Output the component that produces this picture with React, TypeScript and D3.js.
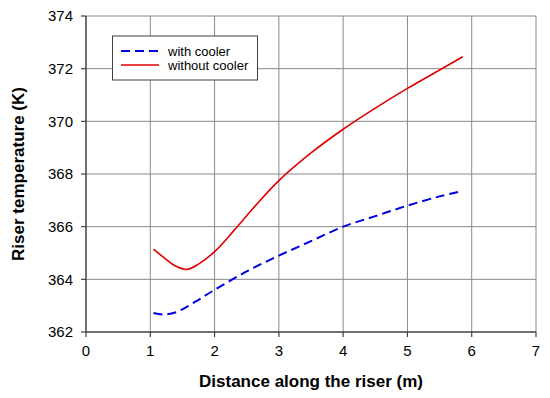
import React from "react";
import * as d3 from "d3";

const xTicks = [0, 1, 2, 3, 4, 5, 6, 7];
const yTicks = [362, 364, 366, 368, 370, 372, 374];

const withCoolerX = [1.05, 1.2, 1.4, 1.7, 2.0, 2.5, 3.0, 3.5, 4.0, 4.5, 5.0, 5.5, 5.81];
const withCoolerY = [362.72, 362.66, 362.75, 363.15, 363.6, 364.3, 364.9, 365.45, 366.0, 366.4, 366.8, 367.15, 367.33];

const withoutCoolerX = [1.05, 1.2, 1.4, 1.58, 1.75, 2.0, 2.3, 2.6, 3.0, 3.5, 4.0, 4.5, 5.0, 5.5, 5.86];
const withoutCoolerY = [365.15, 364.85, 364.5, 364.38, 364.58, 365.05, 365.85, 366.7, 367.75, 368.8, 369.7, 370.5, 371.25, 371.95, 372.45];

const W = 550;
const H = 398;
const left = 86, right = 536, top = 16, bottom = 332;
const font = "'Liberation Sans', Arial, sans-serif";

export default function App() {
  const x = d3.scaleLinear().domain([0, 7]).range([left, right]);
  const y = d3.scaleLinear().domain([362, 374]).range([bottom, top]);
  const line = d3
    .line<[number, number]>()
    .x((d) => x(d[0]))
    .y((d) => y(d[1]))
    .curve(d3.curveCatmullRom.alpha(0.5));
  const blue = withCoolerX.map((v, i) => [v, withCoolerY[i]] as [number, number]);
  const red = withoutCoolerX.map((v, i) => [v, withoutCoolerY[i]] as [number, number]);

  return (
    <svg width={W} height={H} style={{ position: "absolute", left: 0, top: 0, background: "#fff" }}>
      <rect x={0} y={0} width={W} height={H} fill="#fff" />
      {xTicks.slice(1).map((t) => (
        <line key={"gx" + t} x1={x(t)} x2={x(t)} y1={top} y2={bottom} stroke="#8a8a8a" strokeWidth={1} />
      ))}
      {yTicks.slice(1).map((t) => (
        <line key={"gy" + t} x1={left} x2={right} y1={y(t)} y2={y(t)} stroke="#8a8a8a" strokeWidth={1} />
      ))}
      <line x1={left} x2={left} y1={top} y2={bottom} stroke="#404040" strokeWidth={1.5} />
      <line x1={left} x2={right} y1={bottom} y2={bottom} stroke="#404040" strokeWidth={1.5} />
      {yTicks.map((t) => (
        <g key={"ty" + t}>
          <line x1={left - 5} x2={left} y1={y(t)} y2={y(t)} stroke="#404040" strokeWidth={1.2} />
          <text x={73} y={y(t)} dy="0.35em" textAnchor="end" fontFamily={font} fontSize={15} fill="#000">
            {t}
          </text>
        </g>
      ))}
      {xTicks.map((t) => (
        <g key={"tx" + t}>
          <line x1={x(t)} x2={x(t)} y1={bottom} y2={bottom + 5} stroke="#404040" strokeWidth={1.2} />
          <text x={x(t)} y={bottom + 24} textAnchor="middle" fontFamily={font} fontSize={15} fill="#000">
            {t}
          </text>
        </g>
      ))}
      <path d={line(red) || ""} fill="none" stroke="#e00000" strokeWidth={1.6} />
      <path d={line(blue) || ""} fill="none" stroke="#0000e0" strokeWidth={2} strokeDasharray="9,5" />
      <g>
        <rect x={112.5} y={36} width={145} height={44} fill="#fff" stroke="#404040" strokeWidth={1} />
        <line x1={121} x2={159} y1={51} y2={51} stroke="#0000e0" strokeWidth={2} strokeDasharray="9,5" />
        <line x1={121} x2={159} y1={65} y2={65} stroke="#e00000" strokeWidth={1.6} />
        <text x={168} y={51} dy="0.35em" fontFamily={font} fontSize={13} fill="#000">with cooler</text>
        <text x={168} y={65} dy="0.35em" fontFamily={font} fontSize={13} fill="#000">without cooler</text>
      </g>
      <text x={311} y={387} textAnchor="middle" fontFamily={font} fontSize={17} fontWeight="bold" fill="#000">
        Distance along the riser (m)
      </text>
      <text
        transform={`translate(24,${(top + bottom) / 2}) rotate(-90)`}
        textAnchor="middle"
        fontFamily={font}
        fontSize={17}
        fontWeight="bold"
        fill="#000"
      >
        Riser temperature (K)
      </text>
    </svg>
  );
}
